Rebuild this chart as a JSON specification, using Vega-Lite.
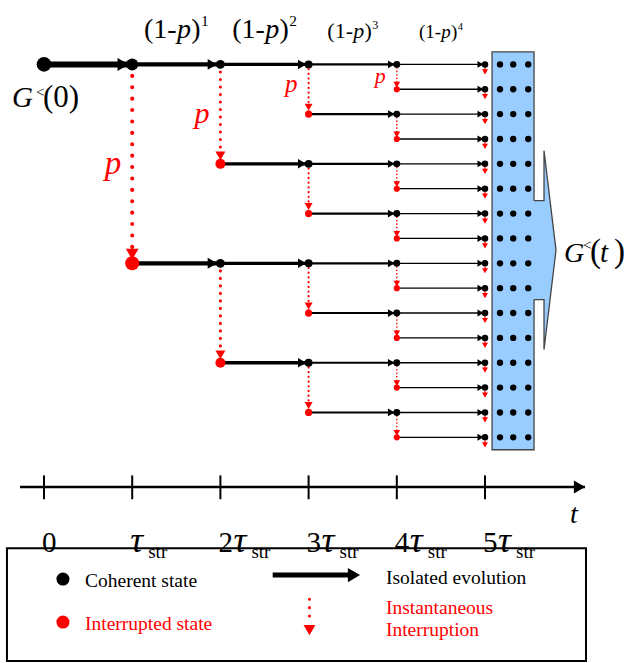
{
  "$schema": "https://vega.github.io/schema/vega-lite/v6.json",
  "width": 628,
  "height": 663,
  "autosize": {"type": "fit", "contains": "padding"},
  "padding": 0,
  "background": "white",
  "config": {
    "view": {"stroke": null},
    "text": {"baseline": "alphabetic"}
  },
  "datasets": {
    "evo": [
      {"t": 0, "t2": 1, "row": 0},
      {"t": 1, "t2": 2, "row": 0}, {"t": 1, "t2": 2, "row": 8},
      {"t": 2, "t2": 3, "row": 0}, {"t": 2, "t2": 3, "row": 4}, {"t": 2, "t2": 3, "row": 8}, {"t": 2, "t2": 3, "row": 12},
      {"t": 3, "t2": 4, "row": 0}, {"t": 3, "t2": 4, "row": 2}, {"t": 3, "t2": 4, "row": 4}, {"t": 3, "t2": 4, "row": 6},
      {"t": 3, "t2": 4, "row": 8}, {"t": 3, "t2": 4, "row": 10}, {"t": 3, "t2": 4, "row": 12}, {"t": 3, "t2": 4, "row": 14},
      {"t": 4, "t2": 5, "row": 0}, {"t": 4, "t2": 5, "row": 1}, {"t": 4, "t2": 5, "row": 2}, {"t": 4, "t2": 5, "row": 3},
      {"t": 4, "t2": 5, "row": 4}, {"t": 4, "t2": 5, "row": 5}, {"t": 4, "t2": 5, "row": 6}, {"t": 4, "t2": 5, "row": 7},
      {"t": 4, "t2": 5, "row": 8}, {"t": 4, "t2": 5, "row": 9}, {"t": 4, "t2": 5, "row": 10}, {"t": 4, "t2": 5, "row": 11},
      {"t": 4, "t2": 5, "row": 12}, {"t": 4, "t2": 5, "row": 13}, {"t": 4, "t2": 5, "row": 14}, {"t": 4, "t2": 5, "row": 15}
    ],
    "intr": [
      {"t": 1, "row": 0, "row2": 8},
      {"t": 2, "row": 0, "row2": 4}, {"t": 2, "row": 8, "row2": 12},
      {"t": 3, "row": 0, "row2": 2}, {"t": 3, "row": 4, "row2": 6}, {"t": 3, "row": 8, "row2": 10}, {"t": 3, "row": 12, "row2": 14},
      {"t": 4, "row": 0, "row2": 1}, {"t": 4, "row": 2, "row2": 3}, {"t": 4, "row": 4, "row2": 5}, {"t": 4, "row": 6, "row2": 7},
      {"t": 4, "row": 8, "row2": 9}, {"t": 4, "row": 10, "row2": 11}, {"t": 4, "row": 12, "row2": 13}, {"t": 4, "row": 14, "row2": 15},
      {"t": 5, "row": 0, "row2": 0.3}, {"t": 5, "row": 1, "row2": 1.3}, {"t": 5, "row": 2, "row2": 2.3}, {"t": 5, "row": 3, "row2": 3.3},
      {"t": 5, "row": 4, "row2": 4.3}, {"t": 5, "row": 5, "row2": 5.3}, {"t": 5, "row": 6, "row2": 6.3}, {"t": 5, "row": 7, "row2": 7.3},
      {"t": 5, "row": 8, "row2": 8.3}, {"t": 5, "row": 9, "row2": 9.3}, {"t": 5, "row": 10, "row2": 10.3}, {"t": 5, "row": 11, "row2": 11.3},
      {"t": 5, "row": 12, "row2": 12.3}, {"t": 5, "row": 13, "row2": 13.3}, {"t": 5, "row": 14, "row2": 14.3}, {"t": 5, "row": 15, "row2": 15.3}
    ],
    "states": [
      {"t": 0, "row": 0, "state": "coherent"},
      {"t": 1, "row": 0, "state": "coherent"}, {"t": 1, "row": 8, "state": "interrupted"},
      {"t": 2, "row": 0, "state": "coherent"}, {"t": 2, "row": 8, "state": "coherent"},
      {"t": 2, "row": 4, "state": "interrupted"}, {"t": 2, "row": 12, "state": "interrupted"},
      {"t": 3, "row": 0, "state": "coherent"}, {"t": 3, "row": 4, "state": "coherent"}, {"t": 3, "row": 8, "state": "coherent"}, {"t": 3, "row": 12, "state": "coherent"},
      {"t": 3, "row": 2, "state": "interrupted"}, {"t": 3, "row": 6, "state": "interrupted"}, {"t": 3, "row": 10, "state": "interrupted"}, {"t": 3, "row": 14, "state": "interrupted"},
      {"t": 4, "row": 0, "state": "coherent"}, {"t": 4, "row": 2, "state": "coherent"}, {"t": 4, "row": 4, "state": "coherent"}, {"t": 4, "row": 6, "state": "coherent"},
      {"t": 4, "row": 8, "state": "coherent"}, {"t": 4, "row": 10, "state": "coherent"}, {"t": 4, "row": 12, "state": "coherent"}, {"t": 4, "row": 14, "state": "coherent"},
      {"t": 4, "row": 1, "state": "interrupted"}, {"t": 4, "row": 3, "state": "interrupted"}, {"t": 4, "row": 5, "state": "interrupted"}, {"t": 4, "row": 7, "state": "interrupted"},
      {"t": 4, "row": 9, "state": "interrupted"}, {"t": 4, "row": 11, "state": "interrupted"}, {"t": 4, "row": 13, "state": "interrupted"}, {"t": 4, "row": 15, "state": "interrupted"},
      {"t": 5, "row": 0, "state": "coherent"}, {"t": 5, "row": 1, "state": "coherent"}, {"t": 5, "row": 2, "state": "coherent"}, {"t": 5, "row": 3, "state": "coherent"},
      {"t": 5, "row": 4, "state": "coherent"}, {"t": 5, "row": 5, "state": "coherent"}, {"t": 5, "row": 6, "state": "coherent"}, {"t": 5, "row": 7, "state": "coherent"},
      {"t": 5, "row": 8, "state": "coherent"}, {"t": 5, "row": 9, "state": "coherent"}, {"t": 5, "row": 10, "state": "coherent"}, {"t": 5, "row": 11, "state": "coherent"},
      {"t": 5, "row": 12, "state": "coherent"}, {"t": 5, "row": 13, "state": "coherent"}, {"t": 5, "row": 14, "state": "coherent"}, {"t": 5, "row": 15, "state": "coherent"}
    ],
    "boxDots": [
      {"t": 5.17, "row": 0}, {"t": 5.32, "row": 0}, {"t": 5.49, "row": 0},
      {"t": 5.17, "row": 1}, {"t": 5.32, "row": 1}, {"t": 5.49, "row": 1},
      {"t": 5.17, "row": 2}, {"t": 5.32, "row": 2}, {"t": 5.49, "row": 2},
      {"t": 5.17, "row": 3}, {"t": 5.32, "row": 3}, {"t": 5.49, "row": 3},
      {"t": 5.17, "row": 4}, {"t": 5.32, "row": 4}, {"t": 5.49, "row": 4},
      {"t": 5.17, "row": 5}, {"t": 5.32, "row": 5}, {"t": 5.49, "row": 5},
      {"t": 5.17, "row": 6}, {"t": 5.32, "row": 6}, {"t": 5.49, "row": 6},
      {"t": 5.17, "row": 7}, {"t": 5.32, "row": 7}, {"t": 5.49, "row": 7},
      {"t": 5.17, "row": 8}, {"t": 5.32, "row": 8}, {"t": 5.49, "row": 8},
      {"t": 5.17, "row": 9}, {"t": 5.32, "row": 9}, {"t": 5.49, "row": 9},
      {"t": 5.17, "row": 10}, {"t": 5.32, "row": 10}, {"t": 5.49, "row": 10},
      {"t": 5.17, "row": 11}, {"t": 5.32, "row": 11}, {"t": 5.49, "row": 11},
      {"t": 5.17, "row": 12}, {"t": 5.32, "row": 12}, {"t": 5.49, "row": 12},
      {"t": 5.17, "row": 13}, {"t": 5.32, "row": 13}, {"t": 5.49, "row": 13},
      {"t": 5.17, "row": 14}, {"t": 5.32, "row": 14}, {"t": 5.49, "row": 14},
      {"t": 5.17, "row": 15}, {"t": 5.32, "row": 15}, {"t": 5.49, "row": 15}
    ],
    "powers": [
      {"t": 1, "row": 0}, {"t": 2, "row": 0}, {"t": 3, "row": 0}, {"t": 4, "row": 0}
    ],
    "probs": [
      {"t": 1, "row": 4}, {"t": 2, "row": 2}, {"t": 3, "row": 1}, {"t": 4, "row": 0.5}
    ],
    "timeAxis": [
      {"t": -0.272, "t2": 6.134, "row": 17}
    ],
    "ticks": [
      {"t": 0, "row": 16.53, "row2": 17.49, "d": "0"},
      {"t": 1, "row": 16.53, "row2": 17.49, "d": ""},
      {"t": 2, "row": 16.53, "row2": 17.49, "d": "2"},
      {"t": 3, "row": 16.53, "row2": 17.49, "d": "3"},
      {"t": 4, "row": 16.53, "row2": 17.49, "d": "4"},
      {"t": 5, "row": 16.53, "row2": 17.49, "d": "5"}
    ],
    "legendText": [
      {"t": 0.465, "row": 21.02, "text": "Coherent state", "state": "coherent"},
      {"t": 0.465, "row": 22.75, "text": "Interrupted state", "state": "interrupted"},
      {"t": 3.877, "row": 20.9, "text": "Isolated evolution", "state": "coherent"},
      {"t": 3.877, "row": 22.11, "text": "Instantaneous", "state": "interrupted"},
      {"t": 3.877, "row": 22.99, "text": "Interruption", "state": "interrupted"}
    ]
  },
  "encoding": {
    "x": {"field": "t", "type": "quantitative", "scale": {"domain": [-0.4989, 6.6213], "nice": false, "zero": false}, "axis": null},
    "y": {"field": "row", "type": "quantitative", "scale": {"domain": [-2.59, 24.036], "reverse": true, "nice": false, "zero": false}, "axis": null}
  },
  "layer": [
    {
      "data": {"values": [{"t": 5.08, "t2": 5.556, "row": -0.5, "row2": 15.5}]},
      "mark": {"type": "rect", "fill": "#99ccff", "stroke": "#454545", "strokeWidth": 1.3},
      "encoding": {"x2": {"field": "t2"}, "y2": {"field": "row2"}}
    },
    {
      "data": {"values": [{"t": 5.54, "t2": 5.669, "row": 5.48, "row2": 9.46}]},
      "mark": {"type": "rect", "fill": "#99ccff"},
      "encoding": {"x2": {"field": "t2"}, "y2": {"field": "row2"}}
    },
    {
      "data": {"values": [
        {"t": 5.669, "row": 3.47, "row2": 11.47},
        {"t": 5.805, "row": 7.47, "row2": 7.47}
      ]},
      "mark": {"type": "area", "orient": "vertical", "fill": "#99ccff", "opacity": 1},
      "encoding": {"y2": {"field": "row2"}}
    },
    {
      "data": {"values": [
        {"i": 0, "t": 5.556, "row": 5.48},
        {"i": 1, "t": 5.669, "row": 5.48},
        {"i": 2, "t": 5.669, "row": 3.47},
        {"i": 3, "t": 5.805, "row": 7.47},
        {"i": 4, "t": 5.669, "row": 11.47},
        {"i": 5, "t": 5.669, "row": 9.46},
        {"i": 6, "t": 5.556, "row": 9.46}
      ]},
      "mark": {"type": "line", "color": "#454545", "strokeWidth": 1.3},
      "encoding": {"order": {"field": "i", "type": "quantitative"}}
    },
    {
      "data": {"name": "boxDots"},
      "mark": {"type": "point", "shape": "circle", "filled": true, "opacity": 1, "color": "black", "size": 40}
    },
    {
      "data": {"name": "evo"},
      "mark": {"type": "rule", "color": "black", "strokeWidth": {"expr": "[6,4.2,3.3,2.2,1.3][datum.t]"}},
      "encoding": {"x2": {"field": "t2"}}
    },
    {
      "data": {"name": "evo"},
      "mark": {"type": "point", "shape": "triangle-right", "filled": true, "opacity": 1, "color": "black",
        "size": {"expr": "[170,120,90,60,48][datum.t]"},
        "xOffset": {"expr": "[-9,-8,-6.5,-5.5,-4.5][datum.t]"}},
      "encoding": {"x": {"field": "t2", "type": "quantitative", "scale": {"domain": [-0.4989, 6.6213], "nice": false, "zero": false}, "axis": null}}
    },
    {
      "data": {"name": "intr"},
      "mark": {"type": "rule", "color": "#ff0000", "strokeCap": "round",
        "strokeWidth": {"expr": "[0,4,3,2.2,1.6,1.2][datum.t]"},
        "strokeDash": {"expr": "[[1],[0.1,11.3],[0.1,7.4],[0.1,4.6],[0.1,3.4],[2,1.5]][datum.t]"}},
      "encoding": {"y2": {"field": "row2"}}
    },
    {
      "data": {"name": "intr"},
      "mark": {"type": "point", "shape": "triangle-down", "filled": true, "opacity": 1, "color": "#ff0000",
        "size": {"expr": "[0,160,100,64,45,36][datum.t]"},
        "yOffset": {"expr": "[0,-9,-8,-7,-4.5,0][datum.t]"}},
      "encoding": {"y": {"field": "row2", "type": "quantitative", "scale": {"domain": [-2.59, 24.036], "reverse": true, "nice": false, "zero": false}, "axis": null}}
    },
    {
      "data": {"name": "states"},
      "mark": {"type": "point", "shape": "circle", "filled": true, "opacity": 1,
        "size": {"expr": "datum.state == 'interrupted' ? [0,196,100,52,38][datum.t] : [215,144,78,62,48,42][datum.t]"}},
      "encoding": {"color": {"field": "state", "type": "nominal", "scale": {"domain": ["coherent", "interrupted"], "range": ["#000000", "#ff0000"]}, "legend": null}}
    },
    {
      "data": {"name": "powers"},
      "mark": {"type": "text", "text": "(1-", "align": "left", "color": "black", "font": {"expr": "'Liberation Serif'"},
        "fontSize": {"expr": "[0,28,28,22,19][datum.t]"},
        "dx": {"expr": "44 - 1.15*[0,28,28,22,19][datum.t]"}, "dy": -26.5}
    },
    {
      "data": {"name": "powers"},
      "mark": {"type": "text", "text": "p", "align": "left", "color": "black", "fontStyle": "italic", "font": {"expr": "'Liberation Serif'"},
        "fontSize": {"expr": "[0,28,28,22,19][datum.t]"},
        "dx": {"expr": "44 + 0.03*[0,28,28,22,19][datum.t]"}, "dy": -26.5}
    },
    {
      "data": {"name": "powers"},
      "mark": {"type": "text", "text": ")", "align": "left", "color": "black", "font": {"expr": "'Liberation Serif'"},
        "fontSize": {"expr": "[0,28,28,22,19][datum.t]"},
        "dx": {"expr": "44 + 0.54*[0,28,28,22,19][datum.t]"}, "dy": -26.5}
    },
    {
      "data": {"name": "powers"},
      "mark": {"type": "text", "align": "left", "color": "black", "font": {"expr": "'Liberation Serif'"},
        "fontSize": {"expr": "0.55*[0,28,28,22,19][datum.t]"},
        "dx": {"expr": "44 + 0.89*[0,28,28,22,19][datum.t]"},
        "dy": {"expr": "-26.5 - 0.42*[0,28,28,22,19][datum.t]"}},
      "encoding": {"text": {"field": "t", "type": "nominal"}}
    },
    {
      "data": {"name": "probs"},
      "mark": {"type": "text", "text": "p", "align": "right", "color": "#ff0000", "fontStyle": "italic", "font": {"expr": "'Liberation Serif'"},
        "fontSize": {"expr": "[0,33,30,25,22][datum.t]"},
        "dx": -11,
        "dy": {"expr": "[0,10.5,9,2.6,6.5][datum.t]"}}
    },
    {
      "data": {"values": [{"t": 0, "row": 0}]},
      "mark": {"type": "text", "text": "G", "align": "left", "fontStyle": "italic", "font": {"expr": "'Liberation Serif'"}, "fontSize": 29, "dx": -32, "dy": 42.5}
    },
    {
      "data": {"values": [{"t": 0, "row": 0}]},
      "mark": {"type": "text", "text": "<", "align": "left", "font": {"expr": "'Liberation Serif'"}, "fontSize": 15, "dx": -8, "dy": 32.5}
    },
    {
      "data": {"values": [{"t": 0, "row": 0}]},
      "mark": {"type": "text", "text": "(0)", "align": "left", "font": {"expr": "'Liberation Serif'"}, "fontSize": 31, "dx": -1, "dy": 42.5}
    },
    {
      "data": {"values": [{"t": 5, "row": 7.5}]},
      "mark": {"type": "text", "text": "G", "align": "left", "fontStyle": "italic", "font": {"expr": "'Liberation Serif'"}, "fontSize": 28, "dx": 79, "dy": 11}
    },
    {
      "data": {"values": [{"t": 5, "row": 7.5}]},
      "mark": {"type": "text", "text": "<", "align": "left", "font": {"expr": "'Liberation Serif'"}, "fontSize": 15, "dx": 98, "dy": -1}
    },
    {
      "data": {"values": [{"t": 5, "row": 7.5}]},
      "mark": {"type": "text", "text": "(", "align": "left", "font": {"expr": "'Liberation Serif'"}, "fontSize": 33, "dx": 105, "dy": 11.5}
    },
    {
      "data": {"values": [{"t": 5, "row": 7.5}]},
      "mark": {"type": "text", "text": "t", "align": "left", "fontStyle": "italic", "font": {"expr": "'Liberation Serif'"}, "fontSize": 29, "dx": 115, "dy": 11}
    },
    {
      "data": {"values": [{"t": 5, "row": 7.5}]},
      "mark": {"type": "text", "text": ")", "align": "left", "font": {"expr": "'Liberation Serif'"}, "fontSize": 33, "dx": 129, "dy": 11.5}
    },
    {
      "data": {"name": "timeAxis"},
      "mark": {"type": "rule", "color": "black", "strokeWidth": 2.5},
      "encoding": {"x2": {"field": "t2"}}
    },
    {
      "data": {"name": "timeAxis"},
      "mark": {"type": "point", "shape": "triangle-right", "filled": true, "opacity": 1, "color": "black", "size": 170, "xOffset": -5.5},
      "encoding": {"x": {"field": "t2", "type": "quantitative", "scale": {"domain": [-0.4989, 6.6213], "nice": false, "zero": false}, "axis": null}}
    },
    {
      "data": {"name": "timeAxis"},
      "mark": {"type": "text", "text": "t", "align": "left", "fontStyle": "italic", "font": {"expr": "'Liberation Serif'"}, "fontSize": 28, "dx": -15, "dy": 35.5},
      "encoding": {"x": {"field": "t2", "type": "quantitative", "scale": {"domain": [-0.4989, 6.6213], "nice": false, "zero": false}, "axis": null}}
    },
    {
      "data": {"name": "ticks"},
      "mark": {"type": "rule", "color": "black", "strokeWidth": 2},
      "encoding": {"y2": {"field": "row2"}}
    },
    {
      "data": {"name": "ticks"},
      "transform": [{"filter": "datum.d != ''"}],
      "mark": {"type": "text", "align": "left", "font": {"expr": "'Liberation Serif'"}, "fontSize": 29, "dx": -2, "dy": 52.5},
      "encoding": {"text": {"field": "d", "type": "nominal"}, "y": {"field": "row2", "type": "quantitative", "scale": {"domain": [-2.59, 24.036], "reverse": true, "nice": false, "zero": false}, "axis": null}}
    },
    {
      "data": {"name": "ticks"},
      "transform": [{"filter": "datum.t > 0"}],
      "mark": {"type": "text", "text": "τ", "align": "left", "fontStyle": "italic", "font": {"expr": "'Liberation Serif'"}, "fontSize": 36, "dx": {"expr": "datum.t == 1 ? -2 : 13"}, "dy": 52.5},
      "encoding": {"y": {"field": "row2", "type": "quantitative", "scale": {"domain": [-2.59, 24.036], "reverse": true, "nice": false, "zero": false}, "axis": null}}
    },
    {
      "data": {"name": "ticks"},
      "transform": [{"filter": "datum.t > 0"}],
      "mark": {"type": "text", "text": "str", "align": "left", "font": {"expr": "'Liberation Serif'"}, "fontSize": 19, "dx": {"expr": "datum.t == 1 ? 16 : 31"}, "dy": 58.5},
      "encoding": {"y": {"field": "row2", "type": "quantitative", "scale": {"domain": [-2.59, 24.036], "reverse": true, "nice": false, "zero": false}, "axis": null}}
    },
    {
      "data": {"values": [{"t": -0.42, "t2": 6.145, "row": 19.46, "row2": 23.996}]},
      "mark": {"type": "rect", "filled": false, "color": "black", "strokeWidth": 2},
      "encoding": {"x2": {"field": "t2"}, "y2": {"field": "row2"}}
    },
    {
      "data": {"values": [{"t": 0.215, "row": 20.7, "state": "coherent"}, {"t": 0.215, "row": 22.43, "state": "interrupted"}]},
      "mark": {"type": "point", "shape": "circle", "filled": true, "opacity": 1, "size": 170},
      "encoding": {"color": {"field": "state", "type": "nominal", "scale": {"domain": ["coherent", "interrupted"], "range": ["#000000", "#ff0000"]}, "legend": null}}
    },
    {
      "data": {"values": [{"t": 2.593, "t2": 3.469, "row": 20.54}]},
      "mark": {"type": "rule", "color": "black", "strokeWidth": 5},
      "encoding": {"x2": {"field": "t2"}}
    },
    {
      "data": {"values": [{"t": 2.593, "t2": 3.469, "row": 20.54}]},
      "mark": {"type": "point", "shape": "triangle-right", "filled": true, "opacity": 1, "color": "black", "size": 200, "xOffset": 4},
      "encoding": {"x": {"field": "t2", "type": "quantitative", "scale": {"domain": [-0.4989, 6.6213], "nice": false, "zero": false}, "axis": null}}
    },
    {
      "data": {"values": [{"t": 3.01, "row": 21.51, "row2": 22.51}]},
      "mark": {"type": "rule", "color": "#ff0000", "strokeWidth": 3, "strokeCap": "round", "strokeDash": [0.1, 8.3]},
      "encoding": {"y2": {"field": "row2"}}
    },
    {
      "data": {"values": [{"t": 3.01, "row": 21.51, "row2": 22.51}]},
      "mark": {"type": "point", "shape": "triangle-down", "filled": true, "opacity": 1, "color": "#ff0000", "size": 140, "yOffset": 6},
      "encoding": {"y": {"field": "row2", "type": "quantitative", "scale": {"domain": [-2.59, 24.036], "reverse": true, "nice": false, "zero": false}, "axis": null}}
    },
    {
      "data": {"name": "legendText"},
      "mark": {"type": "text", "align": "left", "font": {"expr": "'Liberation Serif'"}, "fontSize": 19.5},
      "encoding": {
        "text": {"field": "text", "type": "nominal"},
        "color": {"field": "state", "type": "nominal", "scale": {"domain": ["coherent", "interrupted"], "range": ["#000000", "#ff0000"]}, "legend": null}
      }
    }
  ]
}
